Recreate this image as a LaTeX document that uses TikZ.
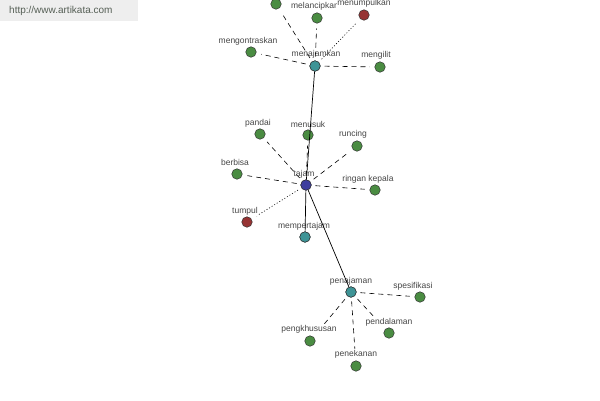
\documentclass[tikz,border=0pt]{standalone}
\usepackage{fontspec}
\setmainfont{Liberation Sans}
\begin{document}
\begin{tikzpicture}[x=1pt,y=-1pt,
  dot/.style={circle,draw=black!80,line width=0.5pt,minimum size=10.5pt,inner sep=0pt},
  gn/.style={dot,fill={rgb,255:red,74;green,140;blue,66}},
  rn/.style={dot,fill={rgb,255:red,150;green,52;blue,52}},
  tn/.style={dot,fill={rgb,255:red,62;green,148;blue,150}},
  bn/.style={dot,fill={rgb,255:red,62;green,62;blue,158}},
  lab/.style={font=\fontsize{8.5}{9}\selectfont,text={rgb,255:red,70;green,70;blue,70},inner sep=0pt},
  leaflab/.style={lab,fill=white,inner xsep=0.5pt,inner ysep=1pt},
  ed/.style={line width=0.6pt,shorten >=5pt,shorten <=4pt},
  dsh/.style={ed,dash pattern=on 5pt off 4pt},
  dtt/.style={ed,dash pattern=on 1pt off 2pt},
  sol/.style={line width=0.7pt}]
\useasboundingbox (0,0) rectangle (600,400);
\fill[fill={rgb,255:red,238;green,238;blue,238}] (0,0) rectangle (138,21);
\node[font=\fontsize{10}{12}\selectfont,text={rgb,255:red,85;green,95;blue,85},anchor=west,inner sep=0pt] (wm) at (9,11) {http://www.artikata.com};
% nodes
\node[bn] (tajam) at (306,185) {};
\node[tn] (menajamkan) at (315,66) {};
\node[gn] (topleft) at (276,4) {};
\node[gn] (melancipkan) at (317,18) {};
\node[rn] (menumpulkan) at (364,15) {};
\node[gn] (mengontraskan) at (251,52) {};
\node[gn] (mengilit) at (380,67) {};
\node[gn] (pandai) at (260,134) {};
\node[gn] (menusuk) at (308,135) {};
\node[gn] (runcing) at (357,146) {};
\node[gn] (berbisa) at (237,174) {};
\node[gn] (ringan) at (375,190) {};
\node[rn] (tumpul) at (247,222) {};
\node[tn] (mempertajam) at (305,237) {};
\node[tn] (penajaman) at (351,292) {};
\node[gn] (spesifikasi) at (420,297) {};
\node[gn] (pendalaman) at (389,333) {};
\node[gn] (pengkhususan) at (310,341) {};
\node[gn] (penekanan) at (356,366) {};
% edges
\draw[dsh] (tajam) -- (menusuk);
\draw[dsh] (tajam) -- (pandai);
\draw[dsh] (tajam) -- (runcing);
\draw[dsh] (tajam) -- (berbisa);
\draw[dsh] (tajam) -- (ringan);
\draw[dtt] (tajam) -- (tumpul);
\draw[dsh] (menajamkan) -- (topleft);
\draw[dsh] (menajamkan) -- (melancipkan);
\draw[dsh] (menajamkan) -- (mengontraskan);
\draw[dsh] (menajamkan) -- (mengilit);
\draw[dtt] (menajamkan) -- (menumpulkan);
\draw[dsh] (penajaman) -- (spesifikasi);
\draw[dsh] (penajaman) -- (pendalaman);
\draw[dsh] (penajaman) -- (pengkhususan);
\draw[dsh] (penajaman) -- (penekanan);
% leaf labels (white background hides line ends)
\node[leaflab] (l3) at (315,6) {melancipkan};
\node[leaflab] (l4) at (364,3) {menumpulkan};
\node[leaflab] (l5) at (248,41) {mengontraskan};
\node[leaflab] (l6) at (376,55) {mengilit};
\node[leaflab] (l7) at (258,123) {pandai};
\node[leaflab] (l8) at (308,124) {menusuk};
\node[leaflab] (l9) at (353,134) {runcing};
\node[leaflab] (l10) at (235,162) {berbisa};
\node[leaflab] (l11) at (368,179) {ringan kepala};
\node[leaflab] (l12) at (245,211) {tumpul};
\node[leaflab] (l15) at (413,286) {spesifikasi};
\node[leaflab] (l16) at (389,322) {pendalaman};
\node[leaflab] (l17) at (309,329) {pengkhususan};
\node[leaflab] (l18) at (356,354) {penekanan};
% hub labels
\node[lab] (l1) at (304,174) {tajam};
\node[lab] (l2) at (316,54) {menajamkan};
\node[lab] (l13) at (304,226) {mempertajam};
\node[lab] (l14) at (351,281) {penajaman};
% solid edges
\draw[sol] (tajam) -- (menajamkan);
\draw[sol] (tajam) -- (mempertajam);
\draw[sol] (tajam) -- (penajaman);
% redraw hub nodes on top
\node[bn] (tajamtop) at (tajam) {};
\node[tn] (menajamkantop) at (menajamkan) {};
\node[tn] (penajamantop) at (penajaman) {};
\node[tn] (mempertajamtop) at (mempertajam) {};
\end{tikzpicture}
\end{document}
